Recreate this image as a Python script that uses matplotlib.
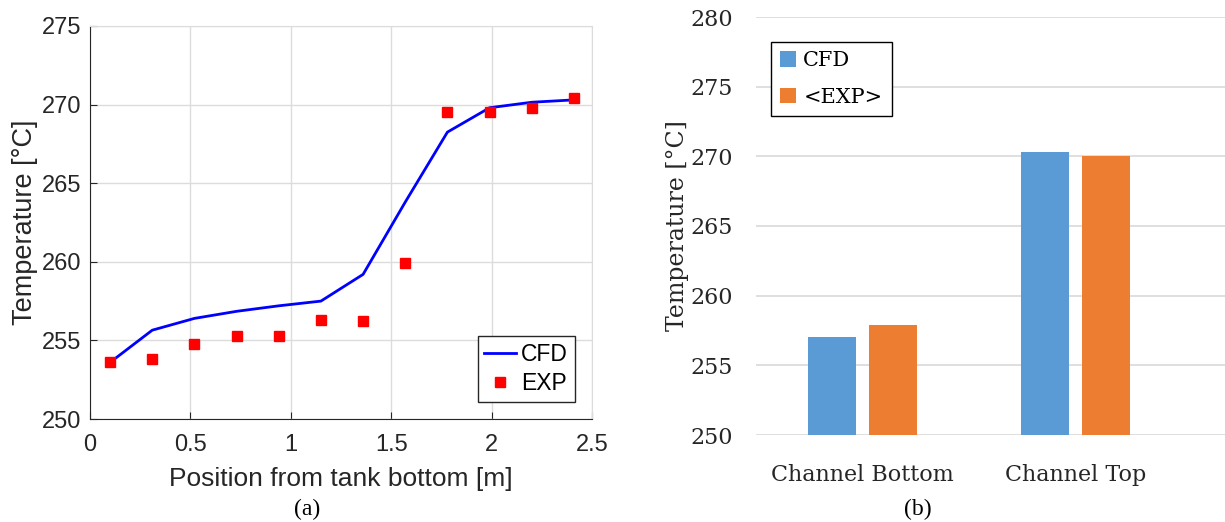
import matplotlib
matplotlib.use('Agg')
import matplotlib.pyplot as plt
import numpy as np

# (a) temperature along the tank
cfd_x = [0.10, 0.31, 0.52, 0.73, 0.94, 1.15, 1.36, 1.57, 1.78, 1.99, 2.20, 2.41]
cfd_t = [253.6, 255.65, 256.4, 256.85, 257.2, 257.5, 259.2, 263.8, 268.25, 269.8, 270.15, 270.3]
exp_x = [0.10, 0.31, 0.52, 0.73, 0.94, 1.15, 1.36, 1.57, 1.78, 1.99, 2.20, 2.41]
exp_t = [253.6, 253.8, 254.8, 255.25, 255.25, 256.3, 256.25, 259.95, 269.55, 269.55, 269.8, 270.45]

# (b) channel averages
channels = ['Channel Bottom', 'Channel Top']
bar_cfd = [257.0, 270.28]
bar_exp = [257.9, 270.03]

fig = plt.figure(figsize=(12.25, 5.22), dpi=100)

# ---- left panel (MATLAB look)
ax1 = fig.add_axes([90/1225, 1-419/522, 502/1225, 393/522])
ax1.plot(cfd_x, cfd_t, color='#0000ff', lw=2, label='CFD')
ax1.plot(exp_x, exp_t, 's', color='#ff0000', ms=7.5, ls='none', label='EXP')
ax1.set_xlim(0, 2.5)
ax1.set_ylim(250, 275)
ax1.set_xticks([0, 0.5, 1, 1.5, 2, 2.5])
ax1.set_xticklabels(['0', '0.5', '1', '1.5', '2', '2.5'])
ax1.set_yticks(np.arange(250, 276, 5))
ax1.grid(True, color='#dcdcdc', lw=1)
ax1.set_axisbelow(True)
ax1.tick_params(direction='in', length=5, labelsize=17, colors='#262626')
ax1.tick_params(axis='x', pad=11)
ax1.tick_params(axis='y', pad=6)
for s in ['left', 'bottom']:
    ax1.spines[s].set_color('#262626')
for s in ['top', 'right']:
    ax1.spines[s].set_color('#dcdcdc')
ax1.tick_params(top=False, right=False)
ax1.set_xlabel('Position from tank bottom [m]', fontsize=19, color='#262626', labelpad=8)
ax1.set_ylabel('Temperature [\u00b0C]', fontsize=19.5, color='#262626', labelpad=3)
for lab in ax1.get_xticklabels() + ax1.get_yticklabels():
    lab.set_family('Liberation Sans')
ax1.xaxis.label.set_family('Liberation Sans')
ax1.yaxis.label.set_family('Liberation Sans')
leg1 = ax1.legend(loc='lower right', prop={'family': 'Liberation Sans', 'size': 16.5},
                  fancybox=False, edgecolor='#262626', framealpha=1,
                  handlelength=1.4, handletextpad=0.2, borderpad=0.3,
                  labelspacing=0.25, borderaxespad=0.75)
leg1.get_frame().set_linewidth(1)

# ---- right panel (Excel look)
ax2 = fig.add_axes([756/1225, 1-435/522, 469/1225, 418/522])
x = np.arange(len(channels))
w = 0.224
ax2.bar(x - 0.142, np.array(bar_cfd) - 250, w, bottom=250, color='#5b9bd5', label='CFD')
ax2.bar(x + 0.142, np.array(bar_exp) - 250, w, bottom=250, color='#ed7d31', label='<EXP>')
ax2.set_xlim(-0.5, 1.5 + 43/213)
ax2.set_ylim(250, 280)
ax2.set_yticks(np.arange(250, 281, 5))
ax2.set_xticks(x)
ax2.set_xticklabels(channels)
ax2.grid(axis='y', color='#d9d9d9', lw=1.2)
ax2.set_axisbelow(True)
for s in ax2.spines.values():
    s.set_visible(False)
ax2.tick_params(length=0, labelsize=16, colors='#262626')
ax2.tick_params(axis='x', pad=21)
ax2.tick_params(axis='y', pad=16.5)
for lab in ax2.get_xticklabels() + ax2.get_yticklabels():
    lab.set_family('DejaVu Serif')
ax2.set_ylabel('Temperature [\u00b0C]', fontsize=17, family='DejaVu Serif', color='#262626', labelpad=1)
leg2 = ax2.legend(loc='upper left', bbox_to_anchor=(15/469, (435-42)/418),
                  prop={'family': 'DejaVu Serif', 'size': 15},
                  fancybox=False, edgecolor='#000000', framealpha=1,
                  handlelength=0.75, handleheight=0.75, handletextpad=0.35,
                  borderpad=0.45, labelspacing=0.85, borderaxespad=0)
leg2.get_frame().set_linewidth(1)

# panel captions
fig.text(307/1225, 1-509/522, '(a)', ha='center', va='center', fontsize=17, family='Liberation Serif')
fig.text(918/1225, 1-509/522, '(b)', ha='center', va='center', fontsize=17, family='Liberation Serif')

fig.savefig('out.png', dpi=100)
